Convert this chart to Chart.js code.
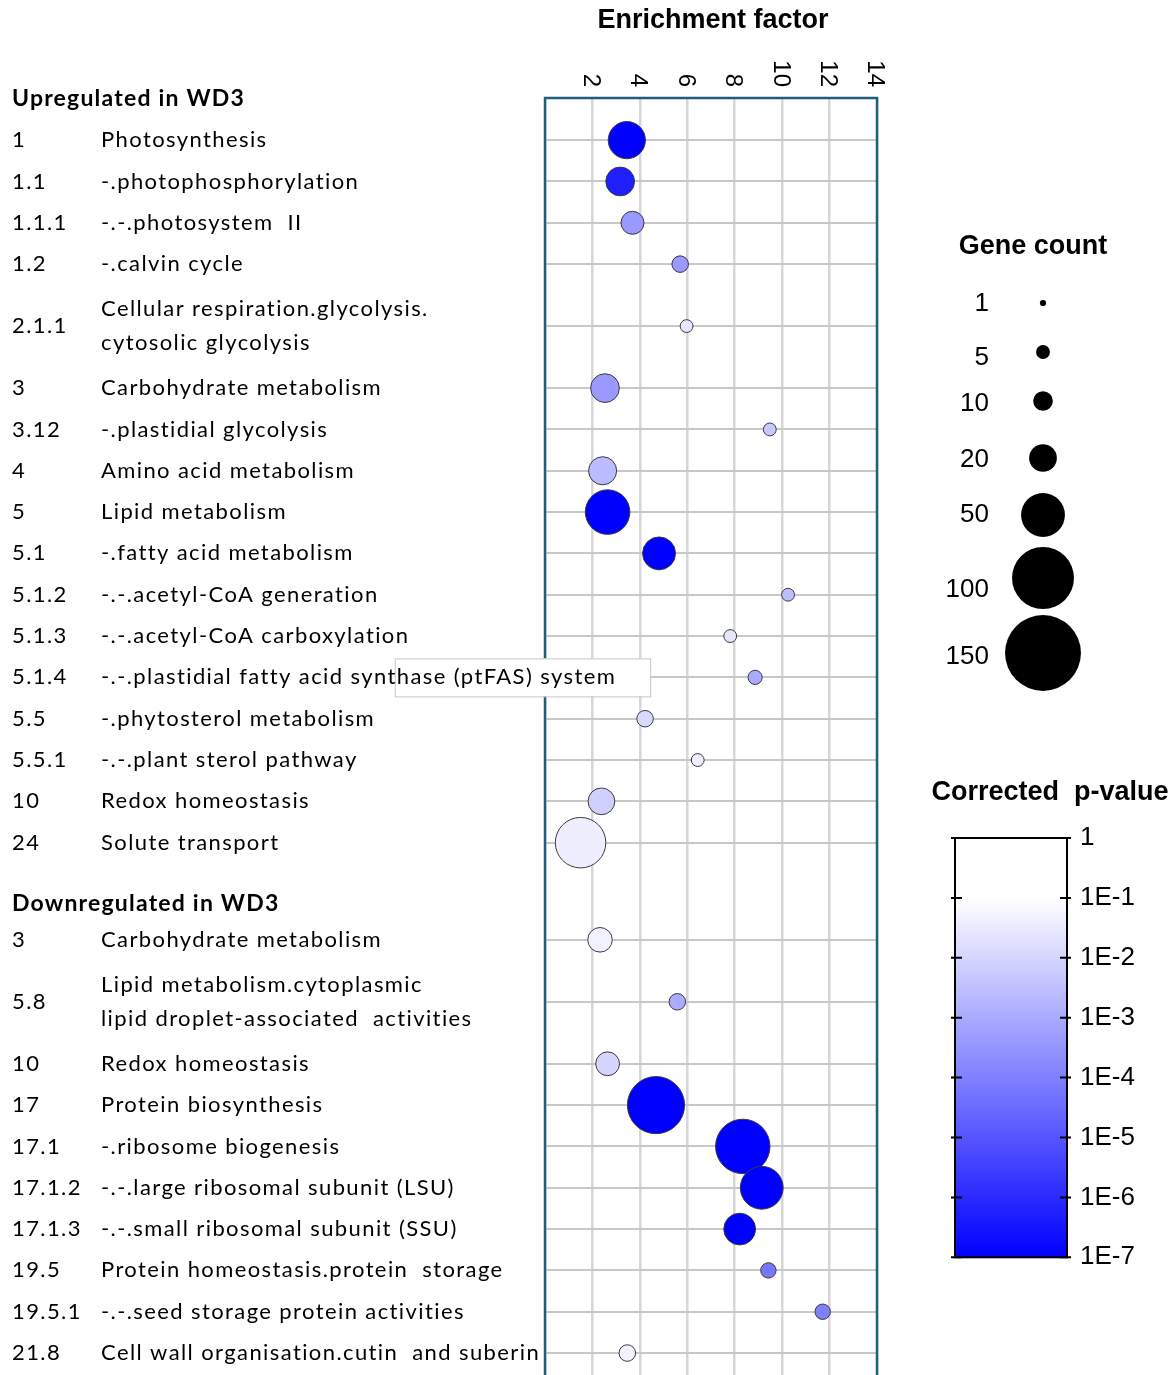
<!DOCTYPE html>
<html>
<head>
<meta charset="utf-8">
<script src="https://cdn.jsdelivr.net/npm/chart.js@4"></script>
<style>
  html, body { margin: 0; padding: 0; background: #fff; overflow: hidden; }
</style>
</head>
<body>
<canvas id="chart" width="1170" height="1420"></canvas>
<script>
// *data
const codes = ["1", "1.1", "1.1.1", "1.2", "2.1.1", "3", "3.12", "4", "5", "5.1", "5.1.2", "5.1.3", "5.1.4", "5.5", "5.5.1", "10", "24",
  "3", "5.8", "10", "17", "17.1", "17.1.2", "17.1.3", "19.5", "19.5.1", "21.8"];
const terms = [
  "Photosynthesis", "-.photophosphorylation", "-.-.photosystem  II", "-.calvin cycle",
  "Cellular respiration.glycolysis.\ncytosolic glycolysis", "Carbohydrate metabolism", "-.plastidial glycolysis",
  "Amino acid metabolism", "Lipid metabolism", "-.fatty acid metabolism", "-.-.acetyl-CoA generation",
  "-.-.acetyl-CoA carboxylation", "-.-.plastidial fatty acid synthase (ptFAS) system", "-.phytosterol metabolism",
  "-.-.plant sterol pathway", "Redox homeostasis", "Solute transport",
  "Carbohydrate metabolism", "Lipid metabolism.cytoplasmic\nlipid droplet-associated  activities", "Redox homeostasis",
  "Protein biosynthesis", "-.ribosome biogenesis", "-.-.large ribosomal subunit (LSU)", "-.-.small ribosomal subunit (SSU)",
  "Protein homeostasis.protein  storage", "-.-.seed storage protein activities", "Cell wall organisation.cutin  and suberin"];
const groupTitles = ["Upregulated in WD3", "Downregulated in WD3"];
const group = [0, 0, 0, 0, 0, 0, 0, 0, 0, 0, 0, 0, 0, 0, 0, 0, 0, 1, 1, 1, 1, 1, 1, 1, 1, 1, 1];
const enrichment = [3.45, 3.17, 3.69, 5.70, 5.97, 2.53, 9.48, 2.43, 2.64, 4.81, 10.25, 7.81, 8.86, 4.22, 6.44, 2.38, 1.50,
  2.32, 5.58, 2.64, 4.68, 8.34, 9.14, 8.21, 9.42, 11.71, 3.47];
const geneCount = [38, 23, 15, 8, 5, 23, 5, 22, 54, 30, 5, 5, 6, 8, 5, 20, 69,
  17, 8, 16, 88, 80, 50, 28, 7, 7, 8];
const pValue = [1e-7, 5e-7, 4e-4, 4e-4, 2.5e-2, 4e-4, 5e-3, 2.5e-3, 1e-7, 1e-7, 3e-3, 2.5e-2, 1e-3, 1.3e-2, 4e-2, 8e-3, 4e-2,
  5e-2, 1e-3, 1e-2, 1e-7, 1e-7, 1e-7, 1e-7, 6e-5, 1e-4, 5e-2];
const xTicks = [2, 4, 6, 8, 10, 12, 14];
const sizeLegend = [1, 5, 10, 20, 50, 100, 150];
const pLegend = ["1", "1E-1", "1E-2", "1E-3", "1E-4", "1E-5", "1E-6", "1E-7"];

// *helpers
const labelFont = "22px Lato";
const arial = "Liberation Sans";

function radius(n) {
  return 3.1 * Math.sqrt(n);
}

function pColor(p) {
  let t = (-Math.log10(p) - 1) / 6;
  t = Math.max(0, Math.min(1, t));
  const c = Math.round(255 * (1 - t));
  return `rgb(${c}, ${c}, 255)`;
}

// row positions on the y scale: two-line rows and the group break get extra room
function rowPositions() {
  const pos = [];
  let p = 0;
  for (let i = 0; i < codes.length; i++) {
    if (i > 0) {
      p += 1;
      if (group[i] !== group[i - 1]) p += 1.35;
      if (terms[i].includes("\n") || terms[i - 1].includes("\n")) p += 0.5;
    }
    pos.push(p);
  }
  return pos;
}
const rows = rowPositions();

// *plugin for texts, frame and legends
const decorations = {
  id: "decorations",
  beforeDatasetsDraw(chart) {
    const { ctx, chartArea } = chart;
    ctx.save();
    ctx.strokeStyle = "#1f5f7e";
    ctx.lineWidth = 2.5;
    ctx.strokeRect(chartArea.left, chartArea.top, chartArea.right - chartArea.left, chartArea.bottom - chartArea.top + 20);
    ctx.restore();
  },
  afterDraw(chart) {
    const { ctx, chartArea } = chart;
    const xs = chart.scales.x;
    const ys = chart.scales.y;
    ctx.save();
    ctx.fillStyle = "#000";

    // title + rotated ticks
    ctx.font = `bold 27px "${arial}"`;
    ctx.textAlign = "center";
    ctx.textBaseline = "middle";
    ctx.fillText("Enrichment factor", (chartArea.left + chartArea.right) / 2 + 2, 21);
    ctx.font = `24px "${arial}"`;
    xTicks.forEach((v) => {
      ctx.save();
      ctx.translate(xs.getPixelForValue(v) - 2, 87);
      ctx.rotate(Math.PI / 2);
      ctx.textAlign = "right";
      ctx.textBaseline = "middle";
      ctx.fillText(String(v), 0, 0);
      ctx.restore();
    });

    // row labels
    ctx.letterSpacing = "1.4px";
    ctx.textAlign = "left";
    ctx.textBaseline = "middle";
    codes.forEach((code, i) => {
      const y = ys.getPixelForValue(rows[i]);
      if (i === 0 || group[i] !== group[i - 1]) {
        ctx.font = `bold 23px Lato`;
        ctx.letterSpacing = "1.2px";
        ctx.fillText(groupTitles[group[i]], 12, y - (i === 0 ? 42 : 36));
        ctx.letterSpacing = "1.4px";
      }
      ctx.font = labelFont;
      if (terms[i].includes("(ptFAS)")) {
        // white callout box sitting over the plot
        const start = 101 + ctx.measureText("-.-.plastidial fatty acid synt").width - 2;
        const end = 101 + ctx.measureText(terms[i]).width + 34;
        ctx.fillStyle = "#fff";
        ctx.fillRect(start, y - 19, end - start, 38);
        ctx.strokeStyle = "#c8c8c8";
        ctx.lineWidth = 1;
        ctx.strokeRect(start + 0.5, y - 18.5, end - start, 38);
        ctx.fillStyle = "#000";
      }
      ctx.fillText(code, 12, y);
      const lines = terms[i].split("\n");
      lines.forEach((line, k) => {
        ctx.fillText(line, 101, y + (k - (lines.length - 1) / 2) * 34);
      });
    });
    ctx.letterSpacing = "0px";

    // gene count legend
    const legendY = [303, 352, 401, 458, 515, 578, 653];
    const legendTextY = [304, 358, 404, 460, 515, 590, 657];
    ctx.font = `bold 27px "${arial}"`;
    ctx.textAlign = "center";
    ctx.fillText("Gene count", 1033, 247);
    ctx.font = `26px "${arial}"`;
    ctx.textAlign = "right";
    sizeLegend.forEach((n, i) => {
      ctx.beginPath();
      ctx.arc(1043, legendY[i], radius(n), 0, Math.PI * 2);
      ctx.fill();
      ctx.fillText(String(n), 989, legendTextY[i]);
    });

    // p-value colour bar
    const top = 838, step = 59.9, left = 955, right = 1067;
    const bottom = top + step * (pLegend.length - 1);
    ctx.font = `bold 27px "${arial}"`;
    ctx.textAlign = "center";
    ctx.fillText("Corrected  p-value", 1050, 793);
    const grad = ctx.createLinearGradient(0, top, 0, bottom);
    pLegend.forEach((_, k) => grad.addColorStop(k / (pLegend.length - 1), pColor(Math.pow(10, -k))));
    ctx.fillStyle = grad;
    ctx.fillRect(left, top, right - left, bottom - top);
    ctx.strokeStyle = "#000";
    ctx.lineWidth = 2;
    ctx.strokeRect(left, top, right - left, bottom - top);
    ctx.fillStyle = "#000";
    ctx.font = `26px "${arial}"`;
    ctx.textAlign = "left";
    pLegend.forEach((lab, k) => {
      const y = top + k * step;
      ctx.beginPath();
      ctx.moveTo(left - 4, y);
      ctx.lineTo(left + 7, y);
      ctx.moveTo(right - 7, y);
      ctx.lineTo(right + 4, y);
      ctx.stroke();
      ctx.fillText(lab, 1080, y);
    });
    ctx.restore();
  },
};

// *chart
new Chart(document.getElementById("chart"), {
  type: "bubble",
  data: {
    datasets: [
      {
        data: rows.map((p, i) => ({ x: enrichment[i], y: p, r: radius(geneCount[i]) - 0.5 })),
        backgroundColor: pValue.map(pColor),
        borderColor: "#3a3a3a",
        borderWidth: 1,
        clip: false,
      },
    ],
  },
  options: {
    responsive: false,
    animation: false,
    devicePixelRatio: 1,
    layout: { autoPadding: false, padding: { left: 545, right: 293, top: 98, bottom: 0 } },
    scales: {
      x: {
        type: "linear",
        position: "top",
        min: 0,
        max: 14,
        ticks: { display: false, stepSize: 2 },
        grid: { color: "#d6d6d6", lineWidth: 2.5, drawTicks: false },
        border: { display: false },
      },
      y: {
        type: "linear",
        reverse: true,
        min: -1.02,
        max: 30.97,
        afterBuildTicks: (axis) => {
          axis.ticks = rows.map((v) => ({ value: v }));
        },
        ticks: { display: false },
        grid: { color: "#c8c8c8", lineWidth: 2, drawTicks: false },
        border: { display: false },
      },
    },
    plugins: {
      legend: { display: false },
      tooltip: { enabled: false },
    },
  },
  plugins: [decorations],
});
</script>
</body>
</html>
